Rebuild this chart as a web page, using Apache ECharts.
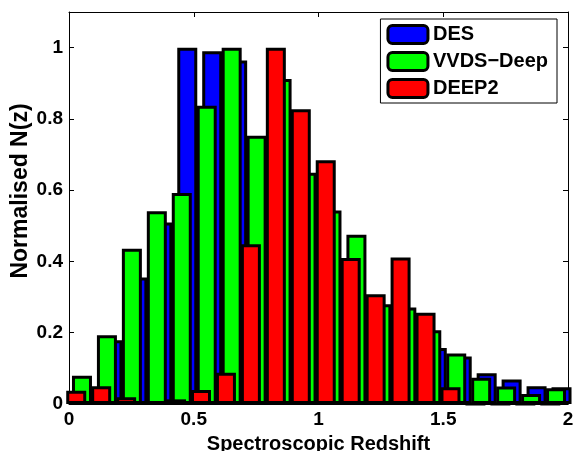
<!DOCTYPE html>
<html>
<head>
<meta charset="utf-8">
<script src="https://cdn.jsdelivr.net/npm/echarts@6/dist/echarts.min.js"></script>
<style>
  html, body { margin: 0; padding: 0; background: #fff; }
  #nz-chart { width: 573px; height: 451px; }
</style>
</head>
<body>
<div id="nz-chart"></div>
<script>
  // bin positions (redshift) for each survey, as drawn
  const desX = [0.074, 0.174, 0.274, 0.374, 0.474, 0.574, 0.674, 0.774, 0.874, 0.974,
    1.074, 1.174, 1.274, 1.374, 1.474, 1.574, 1.674, 1.774, 1.874, 1.974]
  const vvdsX = [0.052, 0.152, 0.252, 0.352, 0.452, 0.552, 0.652, 0.752, 0.852, 0.952,
    1.052, 1.152, 1.252, 1.352, 1.452, 1.552, 1.652, 1.752, 1.852, 1.952]
  const deep2X = [0.029, 0.129, 0.229, 0.329, 0.429, 0.529, 0.629, 0.729, 0.829, 0.929,
    1.029, 1.129, 1.229, 1.329, 1.429, 1.529, 1.629, 1.729, 1.829, 1.929]

  // normalised N(z)
  const desN = [0.02, 0.179, 0.355, 0.509, 1.0, 0.99, 0.964, 0.70, 0.74, 0.58,
    0.40, 0.29, 0.25, 0.22, 0.157, 0.133, 0.086, 0.069, 0.050, 0.047]
  const vvdsN = [0.079, 0.193, 0.436, 0.541, 0.592, 0.837, 1.0, 0.753, 0.912, 0.649,
    0.543, 0.475, 0.280, 0.271, 0.207, 0.142, 0.074, 0.049, 0.028, 0.044]
  const deep2N = [0.037, 0.050, 0.019, 0.008, 0.013, 0.039, 0.088, 0.448, 1.0, 0.827,
    0.684, 0.410, 0.308, 0.411, 0.256, 0.047, 0, 0, 0, 0]

  const seriesNames = ['DES', 'VVDS\u2212Deep', 'DEEP2']
  const xTicks = [0, 0.5, 1, 1.5, 2]
  const yTicks = [0, 0.2, 0.4, 0.6, 0.8, 1]

  const font = '"Liberation Sans", Arial, Helvetica, sans-serif'
  const pair = (xs, ys) => xs.map((x, i) => [x, ys[i]])

  // echarts draws the bar border inside barWidth, so this is the outer width
  const barStyle = (name, colour, xs, ys) => ({
    name: name,
    type: 'bar',
    xAxisIndex: 0,
    yAxisIndex: 0,
    barWidth: 20,
    barGap: '-100%',
    itemStyle: { color: colour, borderColor: '#000', borderWidth: 3 },
    emphasis: { disabled: true },
    data: pair(xs, ys)
  })

  const tickLabel = (v, list) => (list.some(t => Math.abs(t - v) < 1e-9) ? String(+v.toFixed(1)) : '')

  const axisLine = { show: true, onZero: false, lineStyle: { color: '#000', width: 1 } }
  const axisTick = { show: true, inside: true, length: 5, lineStyle: { color: '#000' } }
  const labelText = { fontFamily: font, fontSize: 19, fontWeight: 'bold', color: '#000' }
  const nameText = { fontFamily: font, fontSize: 20, fontWeight: 'bold', color: '#000' }

  const option = {
    animation: false,
    textStyle: { fontFamily: font },
    grid: { left: 69, right: 5, top: 12, bottom: 47, containLabel: false, outerBoundsMode: 'none' },
    legend: {
      data: seriesNames,
      orient: 'vertical',
      right: 16,
      top: 19,
      padding: [5, 9, 4, 6],
      itemGap: 6,
      itemWidth: 40,
      itemHeight: 18,
      selectedMode: false,
      backgroundColor: '#fff',
      borderColor: '#000',
      borderWidth: 1,
      borderRadius: 0,
      itemStyle: { borderColor: '#000', borderWidth: 3 },
      textStyle: { fontFamily: font, fontSize: 20, fontWeight: 'bold', color: '#000', lineHeight: 19.5 }
    },
    xAxis: [
      {
        type: 'value',
        min: 0,
        max: 2,
        interval: 0.5,
        name: 'Spectroscopic Redshift',
        nameLocation: 'middle',
        nameGap: 30,
        nameMoveOverlap: false,
        nameTextStyle: nameText,
        axisLine: axisLine,
        axisTick: axisTick,
        axisLabel: Object.assign({ margin: 6, formatter: v => tickLabel(v, xTicks) }, labelText),
        splitLine: { show: false }
      },
      {
        type: 'value',
        position: 'top',
        min: 0,
        max: 2,
        interval: 0.5,
        axisLine: axisLine,
        axisTick: axisTick,
        axisLabel: { show: false },
        splitLine: { show: false }
      }
    ],
    yAxis: [
      {
        type: 'value',
        min: 0,
        max: 1.1,
        interval: 0.2,
        name: 'Normalised N(z)',
        nameLocation: 'middle',
        nameGap: 37,
        nameMoveOverlap: false,
        nameTextStyle: Object.assign({}, nameText, { fontSize: 23, padding: [0, 0, 0, 34] }),
        axisLine: axisLine,
        axisTick: axisTick,
        axisLabel: Object.assign({ margin: 6, showMaxLabel: false, formatter: v => tickLabel(v, yTicks) }, labelText),
        splitLine: { show: false }
      },
      {
        type: 'value',
        position: 'right',
        min: 0,
        max: 1.1,
        interval: 0.2,
        axisLine: axisLine,
        axisTick: axisTick,
        axisLabel: { show: false },
        splitLine: { show: false }
      }
    ],
    series: [
      barStyle(seriesNames[0], '#0000ff', desX, desN),
      barStyle(seriesNames[1], '#00ff00', vvdsX, vvdsN),
      barStyle(seriesNames[2], '#ff0000', deep2X, deep2N)
    ]
  }

  const nzChart = echarts.init(document.getElementById('nz-chart'))
  nzChart.setOption(option)
</script>
</body>
</html>
